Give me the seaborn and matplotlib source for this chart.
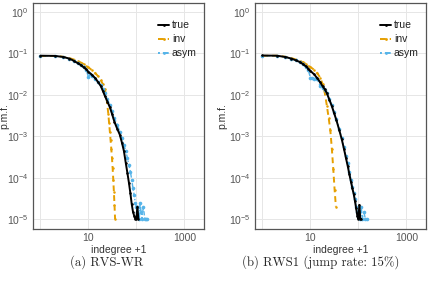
import matplotlib
matplotlib.use("Agg")
import matplotlib.pyplot as plt
import matplotlib.ticker as mticker
import pandas as pd
import seaborn as sns

sns.set_theme(style='white')
plt.rcParams['font.family'] = ['Liberation Sans', 'DejaVu Sans']
plt.rcParams['mathtext.fontset'] = 'custom'
plt.rcParams['mathtext.rm'] = 'Liberation Sans'
plt.rcParams['mathtext.it'] = 'Liberation Sans:italic'

# (a) RVS-WR
a_true_x = [1, 2, 3, 4, 5, 6, 7, 8, 9, 10, 12, 14, 16, 18, 20, 22, 25, 28, 31, 35,
            40, 45, 50, 55, 60, 65, 70, 75, 80, 85, 90, 95, 100, 105, 110]
a_true_y = [.088, .087, .082, .075, .066, .058, .052, .046, .041, .036, .030, .025, .020,
            .0165, .0125, .0095, .0068, .005, .0035, .0022, .0015, .0011, 7e-4, 4.4e-4,
            2.3e-4, 1.3e-4, 7.5e-5, 4.2e-5, 2.3e-5, 1.5e-5, 1.2e-5, 1e-5, 1e-5, 2e-5, 1e-5]
a_inv_x = [1, 2, 3, 4, 5, 6, 7, 8, 9, 10, 12, 14, 16, 18, 20, 22, 24, 26, 27,
           28, 29, 30, 31, 32, 33, 34, 35, 36]
a_inv_y = [.086, .087, .083, .077, .071, .065, .060, .055, .050, .046, .039, .033, .028,
           .023, .018, .014, .008, .0035, .0021, .0013, 8e-4, 5e-4, 3e-4, 1.7e-4,
           9e-5, 4.5e-5, 2.2e-5, 1e-5]
a_asym_x = [1, 2, 3, 4, 5, 6, 7, 8, 9, 10, 11, 12, 14, 16, 18, 20, 22, 25, 28, 31, 35,
            40, 45, 50, 55, 60, 65, 70, 75, 80, 85, 90, 95, 100, 105, 110, 115, 120, 125,
            130, 140, 150, 160, 170]
a_asym_y = [.088, .087, .082, .075, .066, .058, .052, .046, .040, .027, .031, .029, .024,
            .020, .017, .014, .011, .0078, .0056, .0040, .0027, .0019, .0013, 9e-4, 6e-4,
            4.5e-4, 3e-4, 2e-4, 1.4e-4, 9e-5, 5.5e-5, 3.8e-5, 2.5e-5, 2e-5, 1.5e-5, 2e-5,
            1e-5, 2.5e-5, 1.5e-5, 1e-5, 2e-5, 1e-5, 1e-5, 1e-5]

# (b) RWS1 (jump rate 15%)
b_true_x = [1, 2, 3, 4, 5, 6, 7, 8, 9, 10, 12, 14, 16, 18, 20, 22, 25, 28, 31, 35,
            40, 45, 50, 55, 60, 65, 70, 75, 80, 85, 90, 95, 100, 105, 110, 115]
b_true_y = [.089, .088, .082, .075, .068, .062, .055, .049, .043, .038, .031, .025, .020,
            .016, .0135, .011, .0075, .0053, .0037, .0024, .0014, 8.5e-4, 5e-4, 3e-4,
            1.9e-4, 1.2e-4, 8e-5, 5.5e-5, 4e-5, 2.7e-5, 1.8e-5, 1.2e-5, 1e-5, 2.2e-5,
            1e-5, 1e-5]
b_inv_x = [1, 2, 3, 4, 5, 6, 7, 8, 9, 10, 12, 14, 16, 18, 20, 22, 24, 26, 28, 30, 32, 34]
b_inv_y = [.087, .088, .083, .077, .071, .066, .061, .056, .051, .047, .040, .033, .026,
           .018, .011, .0055, .0028, .0014, 5e-4, 1.6e-4, 5e-5, 2e-5]
b_asym_x = [1, 2, 3, 4, 5, 6, 7, 8, 9, 10, 11, 12, 13, 14, 16, 18, 20, 22, 25, 28, 31,
            35, 40, 45, 50, 55, 60, 65, 70, 75, 80, 85, 90, 95, 100, 105, 110, 115, 120,
            130, 140, 150]
b_asym_y = [.088, .087, .082, .075, .068, .061, .054, .047, .040, .026, .025, .024, .026,
            .024, .016, .015, .013, .011, .0078, .0056, .0039, .0026, .0015, 9e-4, 5.5e-4,
            3.4e-4, 2.2e-4, 1.4e-4, 9e-5, 6e-5, 4.2e-5, 3e-5, 2e-5, 1.5e-5, 1.2e-5, 1.5e-5,
            1e-5, 2e-5, 1e-5, 1.5e-5, 1e-5, 1e-5]

methods = ['true', 'inv', 'asym']
captions = ['(a) RVS-WR', '(b) RWS1 (jump rate: 15%)']
caption_x = [107, 321]
ylabel_x = [-0.14, -0.16]
palette = {'true': 'black', 'inv': '#E69F00', 'asym': '#56B4E9'}
dashes = {'true': '', 'inv': (3, 2), 'asym': (1, 1.5, 3, 1.5)}
markers = {'true': 'o', 'inv': 'o', 'asym': 'o'}
line_w = {'true': 1.4, 'inv': 1.4, 'asym': 1.0}
mark_s = {'true': 1.8, 'inv': 1.8, 'asym': 2.6}

panels = [
    {'true': (a_true_x, a_true_y), 'inv': (a_inv_x, a_inv_y), 'asym': (a_asym_x, a_asym_y)},
    {'true': (b_true_x, b_true_y), 'inv': (b_inv_x, b_inv_y), 'asym': (b_asym_x, b_asym_y)},
]

grey = '#555555'
fig = plt.figure(figsize=(4.28, 2.87), dpi=100)
positions = [[33 / 428, 58 / 287, 171 / 428, 226 / 287],
             [255 / 428, 58 / 287, 171 / 428, 226 / 287]]

for pos, series, cap, cx, lx in zip(positions, panels, captions, caption_x, ylabel_x):
    ax = fig.add_axes(pos)
    rows = []
    for m in methods:
        xs, ys = series[m]
        rows += [{'indegree': x, 'pmf': y, 'method': m} for x, y in zip(xs, ys)]
    df = pd.DataFrame(rows)
    sns.lineplot(data=df, x='indegree', y='pmf', hue='method', style='method',
                 hue_order=methods, style_order=methods, palette=palette,
                 dashes=dashes, markers=markers, estimator=None, sort=True,
                 linewidth=1.4, markersize=2.0, markeredgewidth=0, ax=ax)
    for line, m in zip(ax.lines[:3], methods):
        line.set_linewidth(line_w[m])
        line.set_markersize(mark_s[m])
    # draw the true curve on top
    ax.lines[0].set_zorder(4)

    ax.set_xscale('log')
    ax.set_yscale('log')
    ax.set_xlim(0.7, 2570)
    ax.set_ylim(10 ** -5.24, 10 ** 0.217)

    ax.xaxis.set_major_locator(mticker.FixedLocator([1, 10, 100, 1000]))
    ax.xaxis.set_major_formatter(mticker.FixedFormatter(['', '10', '', '1000']))
    ax.xaxis.set_minor_locator(mticker.LogLocator(base=10, subs=range(2, 10), numticks=20))
    ax.xaxis.set_minor_formatter(mticker.NullFormatter())
    ax.yaxis.set_major_locator(mticker.LogLocator(base=10, numticks=10))
    ax.yaxis.set_minor_locator(mticker.LogLocator(base=10, subs=range(2, 10), numticks=20))
    ax.yaxis.set_minor_formatter(mticker.NullFormatter())

    ax.grid(True, which='major', color='#e6e6e6', linewidth=0.7)
    ax.tick_params(which='major', direction='in', length=4, width=0.8, color='#333333',
                   labelsize=7.5, labelcolor=grey, pad=3)
    ax.tick_params(which='minor', direction='in', length=2.4, width=0.6, color='#333333')
    for s in ax.spines.values():
        s.set_color('#555555')
        s.set_linewidth(0.9)

    ax.set_xlabel('indegree +1', fontsize=7.5, color='#333333', labelpad=1)
    ax.set_ylabel('p.m.f.', fontsize=7.5, color='#333333')
    ax.yaxis.set_label_coords(lx, 0.5)

    leg = ax.get_legend()
    handles = leg.legend_handles
    labels = [t.get_text() for t in leg.texts]
    ax.legend(handles, labels, loc='upper right', bbox_to_anchor=(1.0, 0.955),
              frameon=False, fontsize=7.5, handlelength=1.0, handletextpad=0.3,
              labelspacing=0.38, borderaxespad=0.3, labelcolor='#222222')

    fig.text(cx / 428, 25 / 287, cap, ha='center', va='center', fontsize=9.2,
             family=['cmr10', 'DejaVu Serif'])

fig.savefig('out.png', dpi=100)
